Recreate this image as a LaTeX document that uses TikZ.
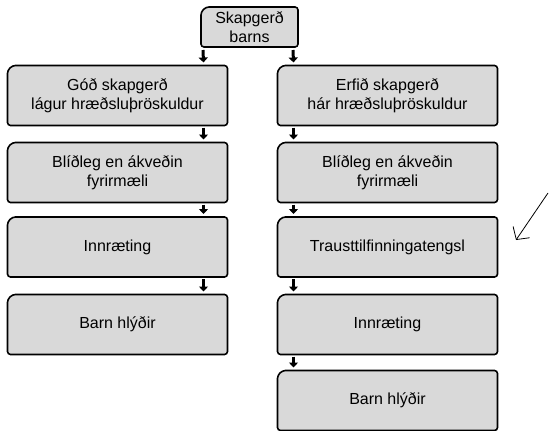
\documentclass[tikz,border=0pt]{standalone}
\usepackage{fontspec}
\setmainfont{Liberation Sans}
\usepackage{xcolor}
\usetikzlibrary{arrows.meta,backgrounds}
\definecolor{boxgray}{RGB}{217,217,217}

\tikzset{
  box/.style={minimum width=220pt, minimum height=60pt, inner sep=0pt, outer sep=0pt,
    align=center, font=\fontsize{16}{19}\selectfont},
  boxline/.style={line width=1.6pt, fill=boxgray, rounded corners=3pt},
  flow/.style={line width=3pt, -{Triangle[width=9pt,length=5pt]}},
  pointer/.style={line width=0.8pt, -{Straight Barb[length=9pt,width=20pt]}}
}

\begin{document}
\begin{tikzpicture}[x=1pt,y=-1pt]
    \useasboundingbox (0,0) rectangle (549,431);
    % Efst
    \node[box, minimum width=97pt, minimum height=40pt] (top) at (249.5,27) {Skapgerð\\barns};
    % Vinstri dálkur
    \node[box] (l1) at (117.5,95.5) {Góð skapgerð\\lágur hræðsluþröskuldur};
    \node[box] (l2) at (117.5,172.5) {Blíðleg en ákveðin\\fyrirmæli};
    \node[box] (l3) at (117.5,247) {Innræting};
    \node[box] (l4) at (117.5,324.5) {Barn hlýðir};
    % Hægri dálkur
    \node[box] (r1) at (387.5,95.5) {Erfið skapgerð\\hár hræðsluþröskuldur};
    \node[box] (r2) at (387.5,172.5) {Blíðleg en ákveðin\\fyrirmæli};
    \node[box] (r3) at (387.5,247) {Trausttilfinningatengsl};
    \node[box] (r4) at (387.5,324.5) {Innræting};
    \node[box] (r5) at (387.5,400.5) {Barn hlýðir};
    % Kassar
    \begin{scope}[on background layer]
        \foreach \b in {top,l1,l2,l3,l4,r1,r2,r3,r4,r5}
            \draw[boxline] ([xshift=5pt]\b.north west) -- (\b.north east) -- (\b.south east)
                -- (\b.south west) -- ([yshift=-5pt]\b.north west) -- cycle;
    \end{scope}
    % Örvar
    \draw[flow] ([xshift=2pt,yshift=-3pt]top.south west) -- ([xshift=-24pt,yshift=3pt]l1.north east);
    \draw[flow] ([xshift=-5pt,yshift=-3pt]top.south east) -- ([xshift=16pt,yshift=3pt]r1.north west);
    \draw[flow] ([xshift=-24pt,yshift=-2pt]l1.south east) -- ([xshift=-24pt,yshift=3pt]l2.north east);
    \draw[flow] ([xshift=-24pt,yshift=-2pt]l2.south east) -- ([xshift=-24pt,yshift=3pt]l3.north east);
    \draw[flow] ([xshift=-24pt,yshift=-2pt]l3.south east) -- ([xshift=-24pt,yshift=3pt]l4.north east);
    \draw[flow] ([xshift=16pt,yshift=-2pt]r1.south west) -- ([xshift=16pt,yshift=3pt]r2.north west);
    \draw[flow] ([xshift=16pt,yshift=-2pt]r2.south west) -- ([xshift=16pt,yshift=3pt]r3.north west);
    \draw[flow] ([xshift=16pt,yshift=-2pt]r3.south west) -- ([xshift=16pt,yshift=3pt]r4.north west);
    \draw[flow] ([xshift=16pt,yshift=-2pt]r4.south west) -- ([xshift=16pt,yshift=3pt]r5.north west);
    % Stök ör
    \coordinate (ptail) at (548,193);
    \coordinate (phead) at (516,240);
    \draw[pointer] (ptail) -- (phead);
\end{tikzpicture}
\end{document}
